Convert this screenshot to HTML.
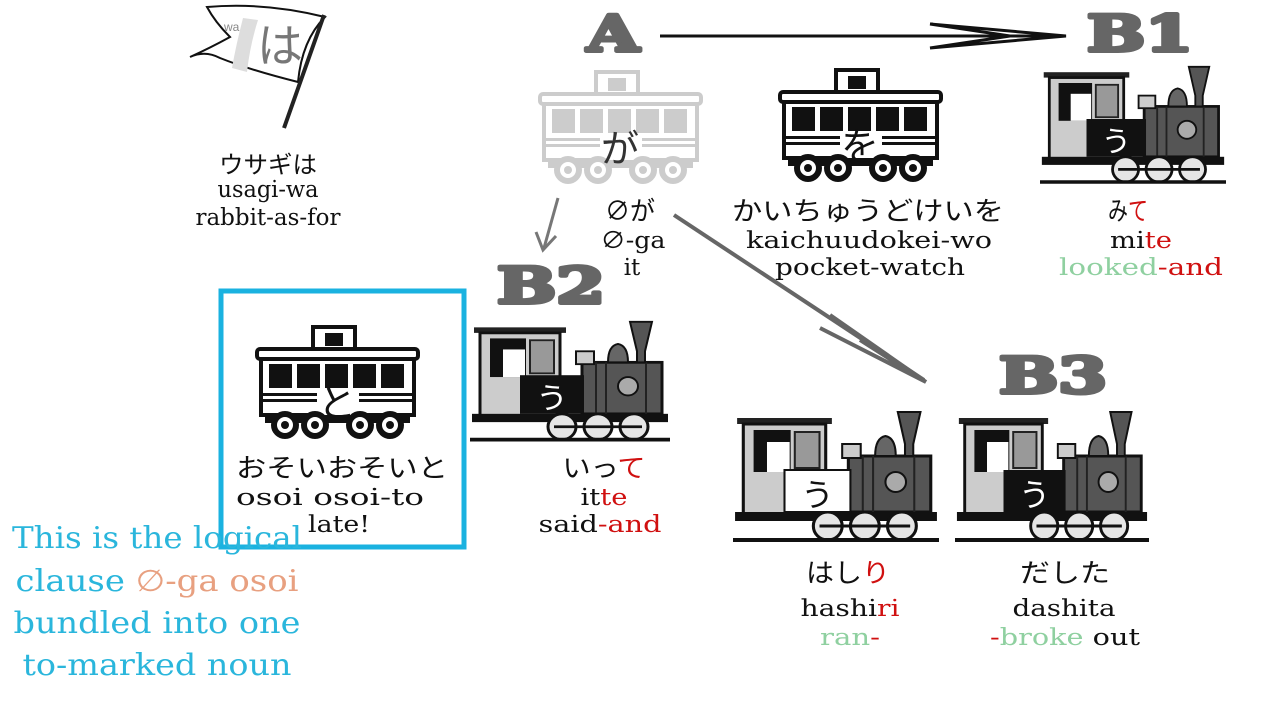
<!DOCTYPE html>
<html><head><meta charset="utf-8"><style>
html,body{margin:0;padding:0;background:#fff;width:1282px;height:712px;overflow:hidden}
svg{display:block}
.t{font-family:"DejaVu Serif","Noto Sans CJK JP",serif;font-size:23px;fill:#111;text-anchor:middle}
.jp{font-family:"Noto Sans CJK JP",sans-serif;font-size:26px;fill:#111;text-anchor:middle}
.big{font-family:"DejaVu Serif",serif;font-weight:bold;font-size:50px;fill:#666;stroke:#666;stroke-width:4;stroke-linejoin:round}
</style></head><body>
<svg width="1282" height="712" viewBox="0 0 1282 712" xmlns="http://www.w3.org/2000/svg">
<defs>
<g id="car">
  <rect x="58" y="2" width="42" height="24" fill="#fff" stroke="currentColor" stroke-width="4"/>
  <rect x="70" y="8" width="18" height="13" fill="currentColor"/>
  <rect x="2" y="24" width="161" height="10" rx="3" fill="#fff" stroke="currentColor" stroke-width="4"/>
  <rect x="6" y="34" width="153" height="56" fill="#fff" stroke="currentColor" stroke-width="4"/>
  <rect x="14" y="39" width="23" height="24" fill="currentColor"/>
  <rect x="42" y="39" width="23" height="24" fill="currentColor"/>
  <rect x="70" y="39" width="23" height="24" fill="currentColor"/>
  <rect x="98" y="39" width="23" height="24" fill="currentColor"/>
  <rect x="126" y="39" width="23" height="24" fill="currentColor"/>
  <rect x="8" y="68" width="149" height="3" fill="currentColor"/>
  <rect x="8" y="74" width="149" height="3" fill="currentColor"/>
  <rect x="62" y="64" width="42" height="28" fill="#fff"/>
  <rect x="10" y="90" width="145" height="8" fill="currentColor"/>
  <g fill="#fff" stroke="currentColor" stroke-width="6">
    <circle cx="30" cy="100" r="11"/><circle cx="60" cy="100" r="11"/>
    <circle cx="105" cy="100" r="11"/><circle cx="135" cy="100" r="11"/>
  </g>
  <g fill="currentColor"><circle cx="30" cy="100" r="4"/><circle cx="60" cy="100" r="4"/><circle cx="105" cy="100" r="4"/><circle cx="135" cy="100" r="4"/></g>
</g>
<g id="loco">
  <rect x="4" y="8" width="92" height="6" fill="#222"/>
  <rect x="10" y="14" width="80" height="90" fill="#ccc" stroke="#111" stroke-width="3"/>
  <rect x="20" y="20" width="36" height="42" fill="#111"/>
  <rect x="33" y="32" width="22" height="30" fill="#fff"/>
  <rect x="60" y="22" width="24" height="36" fill="#999" stroke="#222" stroke-width="2"/>
  <rect x="112" y="46" width="80" height="56" fill="#555" stroke="#111" stroke-width="3"/>
  <g stroke="#222" stroke-width="2"><line x1="126" y1="46" x2="126" y2="102"/><line x1="136" y1="46" x2="136" y2="102"/><line x1="176" y1="46" x2="176" y2="102"/></g>
  <circle cx="158" cy="72" r="10" fill="#aaa" stroke="#111" stroke-width="2"/>
  <rect x="106" y="34" width="18" height="14" fill="#ccc" stroke="#111" stroke-width="2"/>
  <path d="M138 46 Q138 28 148 26 Q158 28 158 46Z" fill="#666" stroke="#111" stroke-width="2"/>
  <path d="M160 2 L182 2 L175 34 L175 46 L167 46 L167 34Z" fill="#555" stroke="#111" stroke-width="2"/>
  <rect x="2" y="102" width="196" height="9" fill="#111"/>
  <g fill="#e5e5e5" stroke="#111" stroke-width="3">
    <circle cx="92" cy="116" r="14"/><circle cx="128" cy="116" r="14"/><circle cx="164" cy="116" r="14"/>
  </g>
  <line x1="84" y1="116" x2="172" y2="116" stroke="#111" stroke-width="3"/>
  <line x1="0" y1="130" x2="200" y2="130" stroke="#111" stroke-width="4"/>
</g>
</defs>

<!-- flag -->
<path d="M207 7 Q265 2 325 17 Q302 40 298 82 Q250 70 220 58 Q205 50 190 57 Q210 48 230 37 Q215 22 207 7Z" fill="#fff" stroke="#111" stroke-width="2"/>
<path d="M243 18 Q236 45 232 68 L247 72 Q250 45 258 20Z" fill="#ddd"/>
<line x1="324" y1="15" x2="284" y2="128" stroke="#222" stroke-width="4"/>
<text x="224" y="31" font-family="Liberation Sans,sans-serif" font-size="12" fill="#888">wa</text>
<text x="280" y="62" class="jp" style="font-size:46px;fill:#777">は</text>
<text x="268" y="173" class="jp" style="font-size:24px" textLength="98" lengthAdjust="spacingAndGlyphs">ウサギは</text>
<text x="268" y="197" class="t" textLength="101" lengthAdjust="spacingAndGlyphs">usagi-wa</text>
<text x="268" y="225" class="t" textLength="145" lengthAdjust="spacingAndGlyphs">rabbit-as-for</text>

<!-- big labels -->
<text x="587" y="51" class="big" textLength="52" lengthAdjust="spacingAndGlyphs">A</text>
<text x="1087" y="51" class="big" textLength="106" lengthAdjust="spacingAndGlyphs">B1</text>
<text x="497" y="303" class="big" textLength="108" lengthAdjust="spacingAndGlyphs">B2</text>
<text x="999" y="393" class="big" textLength="108" lengthAdjust="spacingAndGlyphs">B3</text>

<!-- arrows -->
<line x1="660" y1="36" x2="1062" y2="36" stroke="#111" stroke-width="3"/>
<path d="M930 24 L1066 36 L930 48 L1010 36Z" fill="none" stroke="#111" stroke-width="3"/>
<line x1="558" y1="198" x2="544" y2="248" stroke="#777" stroke-width="3"/>
<path d="M536 232 L543 250 L556 236" fill="none" stroke="#777" stroke-width="3"/>
<line x1="674" y1="215" x2="924" y2="380" stroke="#666" stroke-width="4"/>
<path d="M820 328 L926 382 L860 340 M830 315 L926 382" fill="none" stroke="#666" stroke-width="4"/>

<!-- cars -->
<g color="#ccc" transform="translate(538,70)"><use href="#car"/></g>
<text x="620" y="162" class="jp" style="font-size:38px;fill:#333">が</text>
<g color="#111" transform="translate(778,68)"><use href="#car"/></g>
<text x="860" y="160" class="jp" style="font-size:38px">を</text>
<g color="#111" transform="translate(255,325)"><use href="#car"/></g>
<text x="337" y="417" class="jp" style="font-size:38px">と</text>

<!-- locos -->
<g transform="translate(1040,65) scale(0.93,0.9)"><use href="#loco"/><rect x="50" y="60" width="64" height="42" fill="#111"/><text x="82" y="96" class="jp" style="font-size:32px;fill:#fff">う</text></g>
<g transform="translate(470,320) scale(1,0.92)"><use href="#loco"/><rect x="50" y="60" width="64" height="42" fill="#111"/><text x="82" y="96" class="jp" style="font-size:32px;fill:#fff">う</text></g>
<g transform="translate(733,410) scale(1.03,1)"><use href="#loco"/><rect x="50" y="60" width="64" height="42" fill="#fff" stroke="#111" stroke-width="2"/><text x="82" y="96" class="jp" style="font-size:32px">う</text></g>
<g transform="translate(955,410) scale(0.97,1)"><use href="#loco"/><rect x="50" y="60" width="64" height="42" fill="#111"/><text x="82" y="96" class="jp" style="font-size:32px;fill:#fff">う</text></g>

<!-- text labels -->
<text x="630" y="220" class="jp" textLength="50" lengthAdjust="spacingAndGlyphs">∅が</text>
<text x="633" y="248" class="t" textLength="65" lengthAdjust="spacingAndGlyphs">∅-ga</text>
<text x="632" y="275" class="t">it</text>
<text x="868" y="220" class="jp" textLength="272" lengthAdjust="spacingAndGlyphs">かいちゅうどけいを</text>
<text x="869" y="248" class="t" textLength="246" lengthAdjust="spacingAndGlyphs">kaichuudokei-wo</text>
<text x="870" y="275" class="t" textLength="190" lengthAdjust="spacingAndGlyphs">pocket-watch</text>
<text x="1128" y="220" class="jp" textLength="40" lengthAdjust="spacingAndGlyphs">み<tspan fill="#d01010">て</tspan></text>
<text x="1141" y="248" class="t" textLength="62" lengthAdjust="spacingAndGlyphs">mi<tspan fill="#d01010">te</tspan></text>
<text x="1141" y="275" class="t" textLength="164" lengthAdjust="spacingAndGlyphs"><tspan fill="#8fd0a0">looked</tspan><tspan fill="#d01010">-and</tspan></text>

<rect x="221" y="291" width="243" height="256" fill="none" stroke="#1ab2e0" stroke-width="5"/>
<text x="342" y="477" class="jp" textLength="212" lengthAdjust="spacingAndGlyphs">おそいおそいと</text>
<text x="330" y="505" class="t" textLength="188" lengthAdjust="spacingAndGlyphs">osoi osoi-to</text>
<text x="339" y="532" class="t" textLength="62" lengthAdjust="spacingAndGlyphs">late!</text>

<text x="604" y="477" class="jp" textLength="83" lengthAdjust="spacingAndGlyphs">いっ<tspan fill="#d01010">て</tspan></text>
<text x="604" y="505" class="t" textLength="47" lengthAdjust="spacingAndGlyphs">it<tspan fill="#d01010">te</tspan></text>
<text x="600" y="532" class="t" textLength="123" lengthAdjust="spacingAndGlyphs">said<tspan fill="#d01010">-and</tspan></text>

<text x="848" y="582" class="jp" textLength="84" lengthAdjust="spacingAndGlyphs">はし<tspan fill="#d01010">り</tspan></text>
<text x="850" y="616" class="t" textLength="99" lengthAdjust="spacingAndGlyphs">hashi<tspan fill="#d01010">ri</tspan></text>
<text x="850" y="645" class="t" textLength="60" lengthAdjust="spacingAndGlyphs"><tspan fill="#8fd0a0">ran</tspan><tspan fill="#d01010">-</tspan></text>
<text x="1065" y="582" class="jp" textLength="90" lengthAdjust="spacingAndGlyphs">だした</text>
<text x="1064" y="616" class="t" textLength="103" lengthAdjust="spacingAndGlyphs">dashita</text>
<text x="1065" y="645" class="t" textLength="150" lengthAdjust="spacingAndGlyphs"><tspan fill="#d01010">-</tspan><tspan fill="#8fd0a0">broke</tspan> out</text>

<g font-family="DejaVu Serif, serif" font-size="30" fill="#2ab6dc" text-anchor="middle">
<text x="157" y="548" textLength="290" lengthAdjust="spacingAndGlyphs">This is the logical</text>
<text x="157" y="591" textLength="283" lengthAdjust="spacingAndGlyphs">clause <tspan fill="#e8a080">∅-ga osoi</tspan></text>
<text x="157" y="633" textLength="287" lengthAdjust="spacingAndGlyphs">bundled into one</text>
<text x="157" y="675" textLength="269" lengthAdjust="spacingAndGlyphs">to-marked noun</text>
</g>
</svg>
</body></html>
